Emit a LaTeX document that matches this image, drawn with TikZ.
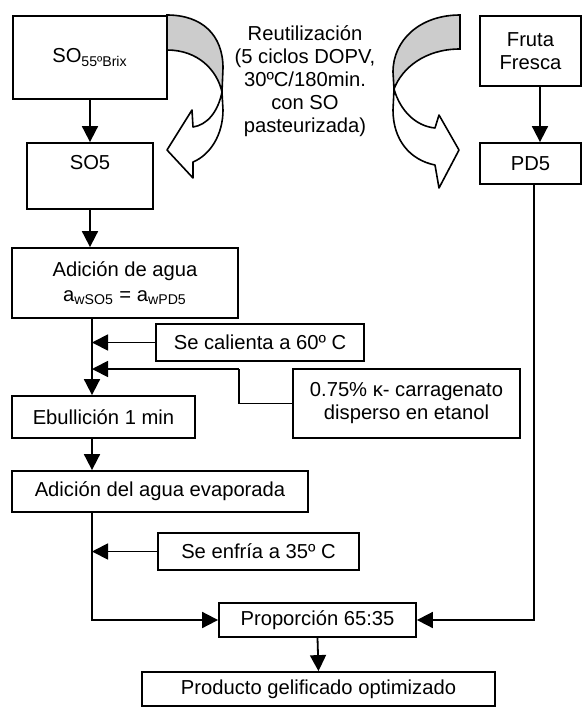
\documentclass[tikz,border=0pt]{standalone}
\usepackage{fontspec}
\setmainfont{Liberation Sans}
\usetikzlibrary{calc, positioning, arrows.meta}
\definecolor{shadegray}{gray}{0.80}
\tikzset{
    procbox/.style={rectangle, draw=black, line width=0.9pt, inner sep=0pt, align=center},
    flowarrow/.style={-{Triangle[length=8pt, width=8pt]}, line width=0.9pt},
    plainline/.style={line width=0.9pt},
    bentback/.style={draw=black, fill=shadegray, line width=0.8pt},
    bentfront/.style={draw=black, fill=white, line width=0.8pt, line join=round}
}

\begin{document}
\begin{tikzpicture}[x=0.5pt, y=-0.5pt, every node/.style={font=\fontsize{10.1}{11.5}\selectfont}]
    \useasboundingbox (0,0) rectangle (582,707);

    % top row
    \node[procbox, minimum width=77pt, minimum height=41.5pt] (so55) at (90,57.5) {SO\textsubscript{55ºBrix}};
    \node[procbox, minimum width=63pt, minimum height=33pt] (so5) at (90,176) {};
    \node (so5txt) at (90,163) {SO5};
    \node[procbox, minimum width=50.5pt, minimum height=35pt] (fruta) at (530.5,51) {Fruta\\Fresca};
    \node[procbox, minimum width=50.5pt, minimum height=20.5pt] (pd5) at (530.5,163.5) {PD5};
    \node[align=center] (reutil) at (305,81.5) {Reutilización\\(5 ciclos DOPV,\\30ºC/180min.\\con SO\\pasteurizada)};

    % process column
    \node[procbox, minimum width=113pt, minimum height=35pt] (adicion) at (125,283) {Adición de agua\\[1pt]a\textsubscript{wSO5} = a\textsubscript{wPD5}};
    \node[procbox, minimum width=104pt, minimum height=18.5pt] (calienta) at (260,342.5) {Se calienta a 60º C};
    \node[procbox, minimum width=113.5pt, minimum height=34.5pt] (carrag) at (406.5,403.5) {0.75\% κ- carragenato\\disperso en etanol};
    \node[procbox, minimum width=91.5pt, minimum height=21pt] (ebull) at (103.5,417) {Ebullición 1 min};
    \node[procbox, minimum width=148pt, minimum height=20.5pt] (evap) at (160,491.5) {Adición del agua evaporada};
    \node[procbox, minimum width=100.5pt, minimum height=18.5pt] (enfria) at (258.5,551.5) {Se enfría a 35º C};
    \node[procbox, minimum width=98.5pt, minimum height=17pt] (prop) at (317.5,620) {Proporción 65:35};
    \node[procbox, minimum width=176.5pt, minimum height=17pt] (prod) at (318.5,689) {Producto gelificado optimizado};

    \coordinate (spine) at (92,0);
    \coordinate (kink) at (239,369);
    \coordinate (rline) at (534,0);
    \coordinate (rarrow) at (540,0);

    \draw[flowarrow] (so55.south) -- (so5.north);
    \draw[flowarrow] (so5.south) -- (so5.south |- adicion.north);
    \draw[flowarrow] (fruta.south -| rarrow) -- (pd5.north -| rarrow);
    \draw[flowarrow] (adicion.south -| spine) -- (ebull.north -| spine);
    \draw[flowarrow] (calienta.west) -- (calienta.west -| spine);
    \draw[plainline] (carrag.west) -| (kink);
    \draw[flowarrow] (kink) -- (kink -| spine);
    \draw[flowarrow] (ebull.south -| spine) -- (evap.north -| spine);
    \draw[flowarrow] (evap.south -| spine) |- (prop.west);
    \draw[flowarrow] (enfria.west) -- (enfria.west -| spine);
    \draw[flowarrow] (pd5.south -| rline) |- (prop.east);
    \draw[flowarrow] (prop.south) -- (prod.north);

    % bent arrows (reuse of syrup)
    \filldraw[bentback] (167,15) .. controls (202,15) and (223,35) .. (223,68) -- (222,92)
        .. controls (217,70) and (198,50) .. (167,50) -- cycle;
    \filldraw[bentfront] (222,92) .. controls (218,112) and (207,125) .. (193,127) -- (192,110) -- (167,150)
        -- (193,178) -- (193,162) .. controls (210,155) and (223,135) .. (223,110) -- cycle;
    \filldraw[bentback] (460,15) .. controls (420,15) and (393,40) .. (393,72) -- (394,89)
        .. controls (402,68) and (425,49) .. (460,49) -- cycle;
    \filldraw[bentfront] (394,89) .. controls (400,110) and (415,126) .. (435,128) -- (439,115) -- (459,150)
        -- (439,188) -- (435,165) .. controls (410,160) and (393,140) .. (393,110) -- cycle;
\end{tikzpicture}
\end{document}
